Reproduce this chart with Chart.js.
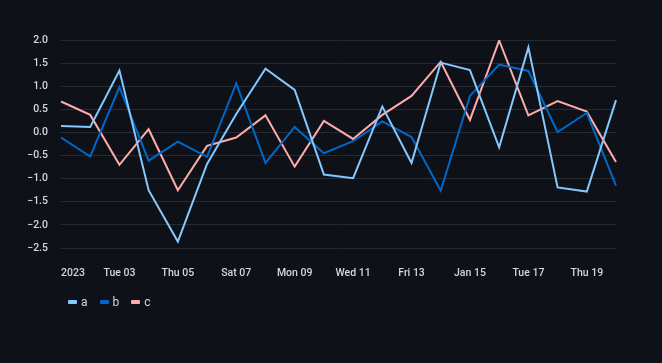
<!DOCTYPE html>
<html>
<head>
<meta charset="utf-8">
<script src="https://cdn.jsdelivr.net/npm/chart.js@4"></script>
<style>
  html, body { margin: 0; padding: 0; background: #0e1117; }
  #wrap { position: relative; width: 662px; height: 363px; }
  #legend { position: absolute; left: 68px; top: 295px; display: flex; gap: 12px;
            font: 12px Roboto, sans-serif; color: #d5d7da; }
  .item { display: flex; align-items: center; gap: 4px; }
  .sw { width: 9px; height: 4px; border-radius: 1px; }
</style>
</head>
<body>
<div id="wrap">
  <canvas id="chart" width="662" height="363"></canvas>
  <div id="legend"></div>
</div>
<script>
const DAYS = ['2023-01-01','2023-01-02','2023-01-03','2023-01-04','2023-01-05','2023-01-06','2023-01-07',
              '2023-01-08','2023-01-09','2023-01-10','2023-01-11','2023-01-12','2023-01-13','2023-01-14',
              '2023-01-15','2023-01-16','2023-01-17','2023-01-18','2023-01-19','2023-01-20'];
const TICK_LABELS = ['2023','Tue 03','Thu 05','Sat 07','Mon 09','Wed 11','Fri 13','Jan 15','Tue 17','Thu 19'];

const SERIES_A = [0.14, 0.12, 1.34, -1.25, -2.36, -0.68, 0.40, 1.38, 0.92, -0.91,
                  -0.99, 0.56, -0.66, 1.51, 1.35, -0.32, 1.84, -1.19, -1.28, 0.70];
const SERIES_B = [-0.11, -0.52, 0.98, -0.61, -0.20, -0.53, 1.06, -0.66, 0.12, -0.45,
                  -0.19, 0.24, -0.10, -1.26, 0.79, 1.47, 1.33, 0.01, 0.42, -1.15];
const SERIES_C = [0.67, 0.38, -0.70, 0.07, -1.25, -0.29, -0.11, 0.37, -0.74, 0.25,
                  -0.14, 0.38, 0.79, 1.53, 0.27, 1.99, 0.37, 0.68, 0.45, -0.64];

const NAMES  = ['a', 'b', 'c'];
const COLORS = ['#83c9ff', '#0068c9', '#ffabab'];
const LABEL_COLOR = '#d5d7da';
const FONT = { family: 'Roboto, sans-serif', size: 10.5, weight: '500' };

const seriesData = [SERIES_A, SERIES_B, SERIES_C];

const datasets = seriesData.map((d, i) => ({
  label: NAMES[i],
  data: d,
  borderColor: COLORS[i],
  borderWidth: 2,
  pointRadius: 0,
  tension: 0,
  fill: false
}));

new Chart(document.getElementById('chart'), {
  type: 'line',
  data: { labels: DAYS, datasets },
  options: {
    responsive: false,
    animation: false,
    layout: { padding: { top: 40, right: 46, left: 0, bottom: 0 } },
    plugins: { legend: { display: false }, tooltip: { enabled: false } },
    scales: {
      x: {
        offset: false,
        grid: { display: false },
        border: { display: false },
        afterFit: s => { s.height = 115; },
        ticks: {
          autoSkip: false,
          maxRotation: 0,
          align: 'inner',
          padding: 11,
          color: LABEL_COLOR,
          font: FONT,
          callback: (v, i) => i % 2 === 0 ? TICK_LABELS[i / 2] : ''
        }
      },
      y: {
        min: -2.5,
        max: 2.0,
        afterFit: s => { s.width = 61; },
        grid: { color: '#262a31', drawTicks: false, lineWidth: 1 },
        border: { display: false },
        ticks: {
          stepSize: 0.5,
          padding: 13,
          color: LABEL_COLOR,
          font: FONT,
          callback: v => v.toFixed(1).replace('-', '\u2212')
        }
      }
    }
  }
});

document.getElementById('legend').innerHTML = NAMES.map((n, i) =>
  `<span class="item"><span class="sw" style="background:${COLORS[i]}"></span>${n}</span>`
).join('');
</script>
</body>
</html>
